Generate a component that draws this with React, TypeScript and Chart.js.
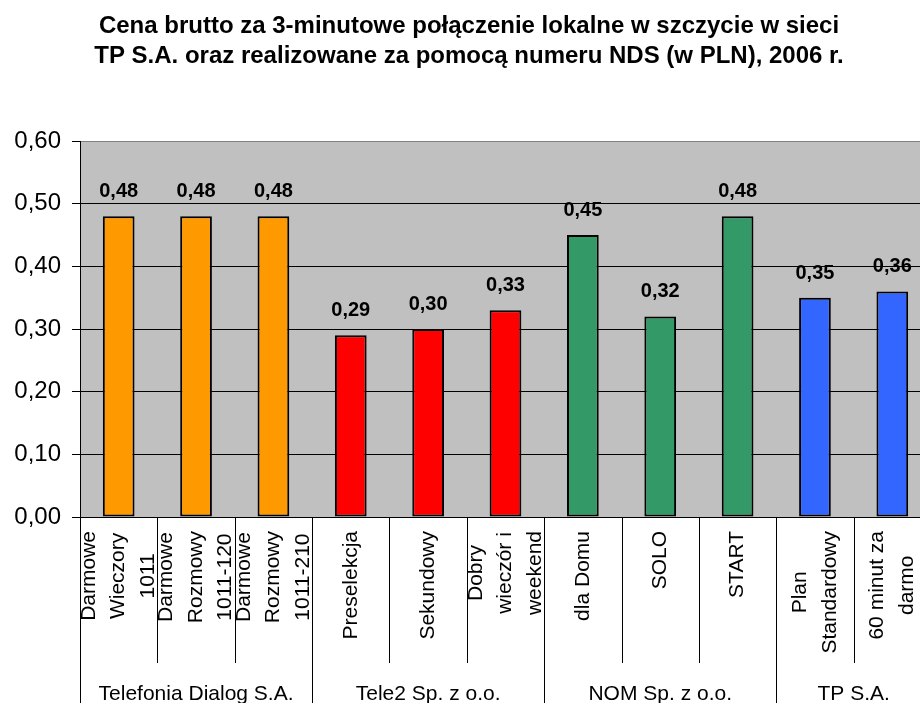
import React, { useEffect, useRef } from "react";
import { Chart, registerables } from "chart.js";

Chart.register(...registerables);

const titleLines = [
  "Cena brutto za 3-minutowe połączenie lokalne w szczycie w sieci",
  "TP S.A. oraz realizowane za pomocą numeru NDS (w PLN), 2006 r.",
];

const categories: string[][] = [
  ["Darmowe", "Wieczory", "1011"],
  ["Darmowe", "Rozmowy", "1011-120"],
  ["Darmowe", "Rozmowy", "1011-210"],
  ["Preselekcja"],
  ["Sekundowy"],
  ["Dobry", "wieczór i", "weekend"],
  ["dla Domu"],
  ["SOLO"],
  ["START"],
  ["Plan", "Standardowy"],
  ["60 minut za", "darmo"],
];

const operators = ["Telefonia Dialog S.A.", "Tele2 Sp. z o.o.", "NOM Sp. z o.o.", "TP S.A."];
const operatorSpans = [3, 3, 3, 2];

const prices = [0.48, 0.48, 0.48, 0.29, 0.3, 0.33, 0.45, 0.32, 0.48, 0.35, 0.36];

const barColors = [
  "#FF9900", "#FF9900", "#FF9900",
  "#FF0000", "#FF0000", "#FF0000",
  "#339966", "#339966", "#339966",
  "#3366FF", "#3366FF",
];

const yTicks = [0, 0.1, 0.2, 0.3, 0.4, 0.5, 0.6];

const FONT = '"Liberation Sans", Arial, sans-serif';
const fmt = (v: number) => v.toFixed(2).replace(".", ",");

const decor = {
  id: "decor",
  beforeDraw(chart: any) {
    const { ctx, chartArea } = chart;
    ctx.save();
    ctx.fillStyle = "#C0C0C0";
    ctx.fillRect(chartArea.left, chartArea.top, chartArea.right - chartArea.left, chartArea.bottom - chartArea.top);
    ctx.restore();
  },
  afterDatasetsDraw(chart: any) {
    const { ctx } = chart;
    const meta = chart.getDatasetMeta(0);
    ctx.save();
    ctx.font = `bold 20px ${FONT}`;
    ctx.fillStyle = "#000";
    ctx.textAlign = "center";
    ctx.textBaseline = "alphabetic";
    meta.data.forEach((bar: any, i: number) => {
      ctx.fillText(fmt(prices[i]), bar.x, bar.y - 19);
    });
    ctx.restore();
  },
  afterDraw(chart: any) {
    const { ctx, chartArea } = chart;
    const xs = chart.scales.x;
    const bottom = chartArea.bottom;
    const H = chart.height;
    ctx.save();
    // title
    ctx.font = `bold 24px ${FONT}`;
    ctx.fillStyle = "#000";
    ctx.textAlign = "center";
    ctx.textBaseline = "alphabetic";
    ctx.fillText(titleLines[0], 469, 33);
    ctx.fillText(titleLines[1], 469, 63);

    const n = categories.length;
    const catW = xs.getPixelForValue(1) - xs.getPixelForValue(0);
    const boundary = (i: number) => xs.getPixelForValue(0) - catW / 2 + i * catW;

    // separators
    const groupBounds = new Set<number>([0]);
    let acc = 0;
    operatorSpans.forEach((s) => {
      acc += s;
      groupBounds.add(acc);
    });
    ctx.strokeStyle = "#000";
    ctx.lineWidth = 1;
    for (let i = 0; i <= n; i++) {
      const x = Math.round(boundary(i)) + 0.5;
      ctx.beginPath();
      ctx.moveTo(x, bottom);
      ctx.lineTo(x, groupBounds.has(i) ? H : bottom + 146);
      ctx.stroke();
    }

    // category labels
    ctx.font = `21px ${FONT}`;
    ctx.textAlign = "center";
    ctx.textBaseline = "middle";
    categories.forEach((lines, i) => {
      const cx0 = xs.getPixelForValue(i);
      const maxW = Math.max(...lines.map((l) => ctx.measureText(l).width));
      const cy = bottom + 14 + maxW / 2;
      lines.forEach((line, j) => {
        const cx = cx0 + (j - (lines.length - 1) / 2) * 29.5;
        ctx.save();
        ctx.translate(cx, cy);
        ctx.rotate(-Math.PI / 2);
        ctx.fillText(line, 0, 0);
        ctx.restore();
      });
    });

    // group labels
    ctx.textBaseline = "alphabetic";
    let start = 0;
    operators.forEach((op, g) => {
      const end = start + operatorSpans[g];
      const cx = (boundary(start) + boundary(end)) / 2;
      ctx.fillText(op, cx, 700);
      start = end;
    });
    ctx.restore();
  },
};

export default function App() {
  const ref = useRef<HTMLCanvasElement | null>(null);
  useEffect(() => {
    if (!ref.current) return;
    const chart = new Chart(ref.current, {
      type: "bar",
      data: {
        labels: categories.map((c) => c.join(" ")),
        datasets: [
          {
            data: prices,
            backgroundColor: barColors,
            borderColor: "#000",
            borderWidth: 2,
            borderSkipped: false,
            barPercentage: 0.41,
            categoryPercentage: 1,
          },
        ],
      },
      options: {
        responsive: false,
        animation: false,
        devicePixelRatio: 1,
        layout: { padding: { top: 141, bottom: 186, left: 0, right: 9 } },
        plugins: {
          legend: { display: false },
          title: { display: false },
          tooltip: { enabled: false },
        },
        scales: {
          x: {
            ticks: { display: false },
            grid: { display: false },
            border: { display: true, color: "#000", width: 1 },
            afterFit: (s: any) => {
              s.height = 0;
            },
          },
          y: {
            min: 0,
            max: 0.6,
            afterBuildTicks: (s: any) => {
              s.ticks = yTicks.map((v) => ({ value: v }));
            },
            ticks: {
              color: "#000",
              font: { family: FONT, size: 24 },
              padding: 11,
              callback: (v: any) => fmt(Number(v)),
            },
            grid: {
              color: (c: any) => (c.tick && Math.abs(c.tick.value - 0.6) < 1e-6 ? "#808080" : "#000"),
              tickColor: "#000",
              tickLength: 8,
              lineWidth: 1,
            },
            border: { display: true, color: "#000", width: 1 },
            afterFit: (s: any) => {
              s.width = 80;
            },
          },
        },
      },
      plugins: [decor],
    });
    return () => chart.destroy();
  }, []);
  return (
    <div
      style={{
        position: "fixed",
        left: 0,
        top: 0,
        width: 920,
        height: 703,
        overflow: "hidden",
        background: "#fff",
      }}
    >
      <canvas ref={ref} width={940} height={703} style={{ display: "block" }} />
    </div>
  );
}
